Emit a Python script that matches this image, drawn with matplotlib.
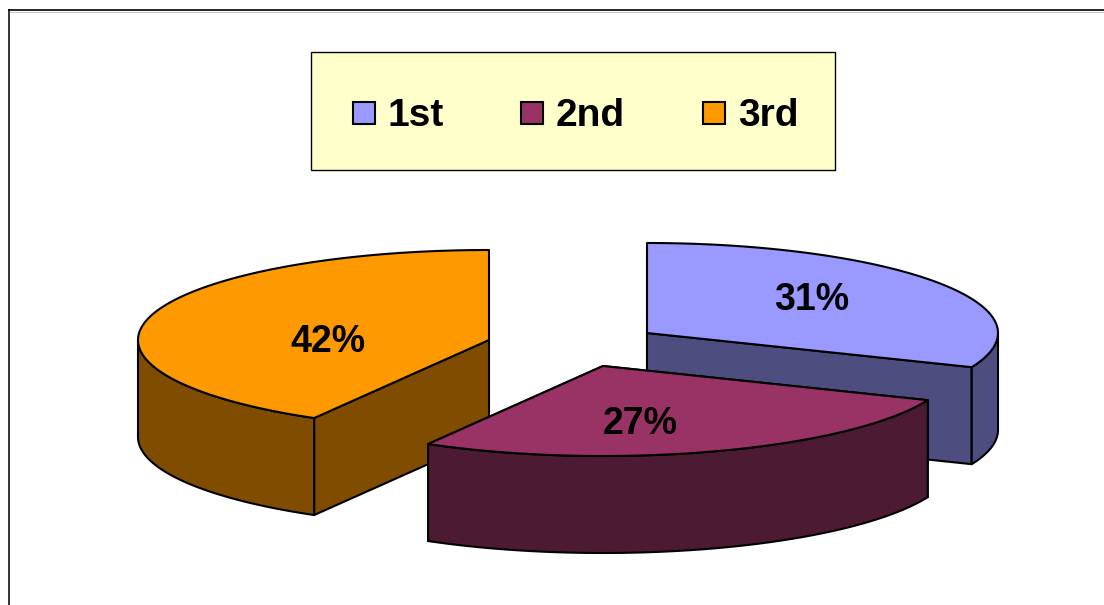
import numpy as np
import matplotlib
matplotlib.use("Agg")
import matplotlib.pyplot as plt
from matplotlib.patches import Polygon, Rectangle

plt.rcParams['font.family'] = ['Liberation Sans', 'DejaVu Sans']

# data
categories = ['1st', '2nd', '3rd']
shares = [31.2, 27.1, 41.7]

# styles
top_colors = ['#9999ff', '#993366', '#ff9900']
side_colors = ['#4d4d80', '#4d1a33', '#804d00']

# layout in pixels
W, H = 1104, 605
centers = [(647, 333), (603, 366), (489, 340)]
label_pos = [(812, 300), (640, 424), (328, 342)]
legend_sq_x = [353, 521, 703]
legend_text_x = [388, 556, 738]
RX, RY = 351, 90
DEPTH = 97
LW = 1.5


def ell(cx, cy, theta):
    # theta in degrees, clockwise from 12 o'clock
    t = np.deg2rad(theta)
    return np.column_stack([cx + RX * np.sin(t), cy - RY * np.cos(t)])


def draw_slice(ax, center, start, end, top, side, z):
    cx, cy = center
    th = np.linspace(start, end, 200)
    arc = ell(cx, cy, th)
    pen = dict(edgecolor='black', linewidth=LW, joinstyle='round', zorder=z)

    # straight cut faces, drawn when they look toward the viewer
    for ang in (start, end):
        p = ell(cx, cy, np.array([ang]))[0]
        if ang > 90 and ang < 270:
            face = [(cx, cy), tuple(p), (p[0], p[1] + DEPTH), (cx, cy + DEPTH)]
            ax.add_patch(Polygon(face, closed=True, facecolor=side, **pen))

    # outer wall, only the front half of the rim shows
    lo, hi = max(start, 90), min(end, 270)
    if hi > lo:
        rim = ell(cx, cy, np.linspace(lo, hi, 200))
        wall = np.vstack([rim, rim[::-1] + [0, DEPTH]])
        ax.add_patch(Polygon(wall, closed=True, facecolor=side, **pen))

    ax.add_patch(Polygon(np.vstack([[cx, cy], arc]), closed=True, facecolor=top, **pen))


fig = plt.figure(figsize=(W / 100, H / 100), dpi=100)
ax = fig.add_axes([0, 0, 1, 1])
ax.set_xlim(0, W)
ax.set_ylim(H, 0)
ax.axis('off')

# chart frame
ax.plot([9, 9], [H, 10], color='#333333', lw=1.4, zorder=1)
ax.plot([9, W], [10, 10], color='black', lw=1.2, zorder=1)
ax.plot([10, W], [11.5, 11.5], color='#bbbbbb', lw=0.6, zorder=1)

# slices, back to front
edges = np.concatenate([[0], np.cumsum(shares)]) * 3.6
for z, i in enumerate([0, 2, 1]):
    draw_slice(ax, centers[i], edges[i], edges[i + 1], top_colors[i], side_colors[i], 2 + z)

for i in range(len(shares)):
    ax.text(label_pos[i][0], label_pos[i][1], f'{round(shares[i])}%', fontsize=27,
            fontweight='bold', ha='center', va='center', color='black', zorder=10)

# legend
ax.add_patch(Rectangle((312, 53), 524, 118, facecolor='#808080', edgecolor='none', zorder=6))
ax.add_patch(Rectangle((311, 52), 524, 118, facecolor='#ffffcc', edgecolor='black',
                       linewidth=1.0, zorder=7))
for i in range(len(categories)):
    ax.add_patch(Rectangle((legend_sq_x[i], 102), 22, 22, facecolor=top_colors[i],
                           edgecolor='black', linewidth=1.5, zorder=8))
    ax.text(legend_text_x[i], 116, categories[i], fontsize=28, fontweight='bold',
            ha='left', va='center', color='black', zorder=8)

fig.savefig('out.png', dpi=100)
